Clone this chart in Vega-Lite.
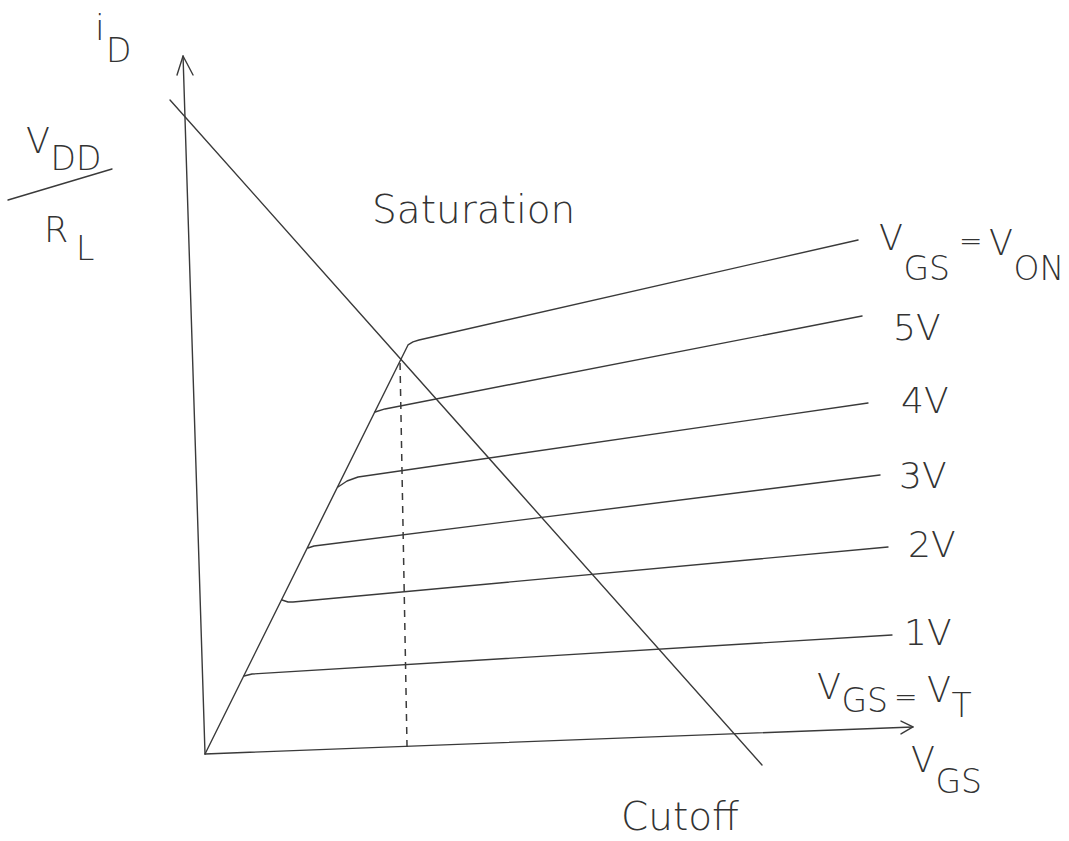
{
  "$schema": "https://vega.github.io/schema/vega-lite/v6.json",
  "width": 1069,
  "height": 841,
  "autosize": "none",
  "padding": 0,
  "background": "white",
  "config": {"view": {"stroke": null}},
  "datasets": {
    "curves": [
      {"series": "axis_y", "idx": 0, "v": 0, "i": 0, "style": "solid"},
      {"series": "axis_y", "idx": 1, "v": -0.314, "i": 9.971, "style": "solid"},
      {"series": "arrow_y", "idx": 0, "v": -0.4, "i": 9.7, "style": "solid"},
      {"series": "arrow_y", "idx": 1, "v": -0.314, "i": 9.971, "style": "solid"},
      {"series": "arrow_y", "idx": 2, "v": -0.171, "i": 9.7, "style": "solid"},
      {"series": "axis_x", "idx": 0, "v": 0, "i": 0, "style": "solid"},
      {"series": "axis_x", "idx": 1, "v": 10.114, "i": 0.386, "style": "solid"},
      {"series": "arrow_x", "idx": 0, "v": 9.943, "i": 0.471, "style": "solid"},
      {"series": "arrow_x", "idx": 1, "v": 10.114, "i": 0.386, "style": "solid"},
      {"series": "arrow_x", "idx": 2, "v": 9.943, "i": 0.286, "style": "solid"},
      {"series": "load", "idx": 0, "v": -0.5, "i": 9.343, "style": "solid"},
      {"series": "load", "idx": 1, "v": 7.957, "i": -0.157, "style": "solid"},
      {"series": "von", "idx": 0, "v": 0, "i": 0, "style": "solid"},
      {"series": "von", "idx": 1, "v": 2.9, "i": 5.843, "style": "solid"},
      {"series": "von", "idx": 2, "v": 2.971, "i": 5.886, "style": "solid"},
      {"series": "von", "idx": 3, "v": 3.057, "i": 5.914, "style": "solid"},
      {"series": "von", "idx": 4, "v": 9.329, "i": 7.343, "style": "solid"},
      {"series": "5V", "idx": 0, "v": 2.429, "i": 4.886, "style": "solid"},
      {"series": "5V", "idx": 1, "v": 2.571, "i": 4.929, "style": "solid"},
      {"series": "5V", "idx": 2, "v": 9.386, "i": 6.257, "style": "solid"},
      {"series": "4V", "idx": 0, "v": 1.9, "i": 3.814, "style": "solid"},
      {"series": "4V", "idx": 1, "v": 2.029, "i": 3.9, "style": "solid"},
      {"series": "4V", "idx": 2, "v": 2.186, "i": 3.957, "style": "solid"},
      {"series": "4V", "idx": 3, "v": 9.471, "i": 5.014, "style": "solid"},
      {"series": "3V", "idx": 0, "v": 1.471, "i": 2.943, "style": "solid"},
      {"series": "3V", "idx": 1, "v": 1.557, "i": 2.971, "style": "solid"},
      {"series": "3V", "idx": 2, "v": 1.671, "i": 2.986, "style": "solid"},
      {"series": "3V", "idx": 3, "v": 9.643, "i": 3.986, "style": "solid"},
      {"series": "2V", "idx": 0, "v": 1.1, "i": 2.2, "style": "solid"},
      {"series": "2V", "idx": 1, "v": 1.186, "i": 2.171, "style": "solid"},
      {"series": "2V", "idx": 2, "v": 1.257, "i": 2.171, "style": "solid"},
      {"series": "2V", "idx": 3, "v": 9.757, "i": 2.957, "style": "solid"},
      {"series": "1V", "idx": 0, "v": 0.557, "i": 1.114, "style": "solid"},
      {"series": "1V", "idx": 1, "v": 0.671, "i": 1.143, "style": "solid"},
      {"series": "1V", "idx": 2, "v": 9.814, "i": 1.7, "style": "solid"},
      {"series": "fraction", "idx": 0, "v": -2.814, "i": 7.914, "style": "solid"},
      {"series": "fraction", "idx": 1, "v": -1.329, "i": 8.357, "style": "solid"},
      {"series": "drop", "idx": 0, "v": 2.786, "i": 5.586, "style": "dashed"},
      {"series": "drop", "idx": 1, "v": 2.886, "i": 0.1, "style": "dashed"}
    ],
    "labels": [
      {"text": "i", "part": "main", "v": -1.571, "i": 10.2},
      {"text": "D", "part": "sub", "v": -1.414, "i": 9.886},
      {"text": "V", "part": "main", "v": -2.557, "i": 8.586},
      {"text": "DD", "part": "sub", "v": -2.207, "i": 8.343},
      {"text": "R", "part": "main", "v": -2.3, "i": 7.314},
      {"text": "L", "part": "sub", "v": -1.843, "i": 7.057},
      {"text": "Saturation", "part": "word", "v": 2.386, "i": 7.586},
      {"text": "Cutoff", "part": "word", "v": 5.943, "i": -1.086},
      {"text": "V", "part": "main", "v": 9.629, "i": 7.2},
      {"text": "GS", "part": "sub", "v": 9.979, "i": 6.771},
      {"text": "=", "part": "sign", "v": 10.771, "i": 7.193},
      {"text": "V", "part": "main", "v": 11.2, "i": 7.129},
      {"text": "ON", "part": "sub", "v": 11.55, "i": 6.771},
      {"text": "5V", "part": "level", "v": 9.829, "i": 5.914},
      {"text": "4V", "part": "level", "v": 9.943, "i": 4.871},
      {"text": "3V", "part": "level", "v": 9.914, "i": 3.8},
      {"text": "2V", "part": "level", "v": 10.043, "i": 2.814},
      {"text": "1V", "part": "level", "v": 9.986, "i": 1.557},
      {"text": "V", "part": "main", "v": 8.743, "i": 0.786},
      {"text": "GS", "part": "sub", "v": 9.093, "i": 0.6},
      {"text": "=", "part": "sign", "v": 9.843, "i": 0.679},
      {"text": "V", "part": "main", "v": 10.314, "i": 0.743},
      {"text": "T", "part": "sub", "v": 10.664, "i": 0.529},
      {"text": "V", "part": "main", "v": 10.086, "i": -0.257},
      {"text": "GS", "part": "sub", "v": 10.436, "i": -0.557}
    ]
  },
  "layer": [
    {
      "data": {"name": "curves"},
      "transform": [{"filter": "datum.style === 'solid'"}],
      "mark": {"type": "line", "color": "#3a3a3a", "strokeWidth": 1.4, "strokeCap": "round", "strokeJoin": "round"},
      "encoding": {
        "x": {"field": "v", "type": "quantitative", "scale": {"domain": [-2.929, 12.343], "nice": false, "zero": false}, "axis": null},
        "y": {"field": "i", "type": "quantitative", "scale": {"domain": [-1.243, 10.771], "nice": false, "zero": false}, "axis": null},
        "detail": {"field": "series", "type": "nominal"},
        "order": {"field": "idx", "type": "quantitative"}
      }
    },
    {
      "data": {"name": "curves"},
      "transform": [{"filter": "datum.style === 'dashed'"}],
      "mark": {"type": "line", "color": "#3a3a3a", "strokeWidth": 1.5, "strokeDash": [7, 6]},
      "encoding": {
        "x": {"field": "v", "type": "quantitative", "scale": {"domain": [-2.929, 12.343], "nice": false, "zero": false}, "axis": null},
        "y": {"field": "i", "type": "quantitative", "scale": {"domain": [-1.243, 10.771], "nice": false, "zero": false}, "axis": null},
        "detail": {"field": "series", "type": "nominal"},
        "order": {"field": "idx", "type": "quantitative"}
      }
    },
    {
      "data": {"name": "labels"},
      "mark": {"type": "text", "align": "left", "baseline": "alphabetic", "font": "DejaVu Sans", "fontWeight": 200, "color": "#333"},
      "encoding": {
        "x": {"field": "v", "type": "quantitative", "scale": {"domain": [-2.929, 12.343], "nice": false, "zero": false}, "axis": null},
        "y": {"field": "i", "type": "quantitative", "scale": {"domain": [-1.243, 10.771], "nice": false, "zero": false}, "axis": null},
        "text": {"field": "text", "type": "nominal"},
        "size": {"field": "part", "type": "nominal", "scale": {"type": "ordinal", "domain": ["main", "sub", "level", "word", "sign"], "range": [35, 33, 36, 39, 28]}, "legend": null}
      }
    }
  ]
}
